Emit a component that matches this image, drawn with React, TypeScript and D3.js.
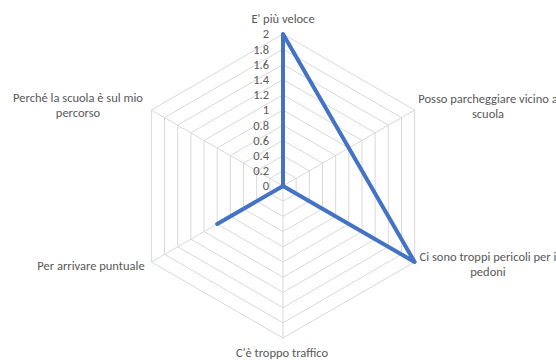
import React from "react";
import * as d3 from "d3";

const categories: string[][] = [
  ["E' più veloce"],
  ["Posso parcheggiare vicino a", "scuola"],
  ["Ci sono troppi pericoli per i", "pedoni"],
  ["C'è troppo traffico"],
  ["Per arrivare puntuale"],
  ["Perché la scuola è sul mio", "percorso"],
];
// null = no answer (the line connects over it)
const values: (number | null)[] = [2, null, 2, 0, 1, 0];
const ticks: number[] = [0, 0.2, 0.4, 0.6, 0.8, 1, 1.2, 1.4, 1.6, 1.8, 2];

const W = 556, H = 363;
const cx = 283, cy = 186, R = 152;

export default function App() {
  const r = d3.scaleLinear().domain([0, 2]).range([0, R]);
  const n = categories.length;
  const ang = (i: number) => (i * 2 * Math.PI) / n;
  const pt = (i: number, v: number): [number, number] => [
    cx + r(v) * Math.sin(ang(i)),
    cy - r(v) * Math.cos(ang(i)),
  ];
  const line = d3.line().curve(d3.curveLinearClosed);
  const font = "Carlito, 'Open Sans', 'Liberation Sans', sans-serif";

  const seriesPts = values
    .map((v, i) => (v === null ? null : pt(i, v)))
    .filter((p): p is [number, number] => p !== null);

  const offs: [number, number][] = [
    [0, -167],
    [205, -87],
    [205, 71],
    [-1, 167],
    [-192, 80],
    [-205, -88],
  ];

  return (
    <div style={{ position: "fixed", left: 0, top: 0 }}>
      <svg width={W} height={H} style={{ display: "block", background: "#fff" }}>
        {ticks.slice(1).map((t) => (
          <path
            key={t}
            d={line(d3.range(n).map((i) => pt(i, t))) || ""}
            fill="none"
            stroke="#d9d9d9"
            strokeWidth={1}
          />
        ))}
        {d3.range(n).map((i) => {
          const [x, y] = pt(i, 2);
          return <line key={i} x1={cx} y1={cy} x2={x} y2={y} stroke="#d9d9d9" strokeWidth={1} />;
        })}
        {ticks.map((t) => (
          <text
            key={t}
            x={cx - 14}
            y={cy - r(t)}
            dy="0.35em"
            textAnchor="end"
            fontSize={12.5}
            fontFamily={font}
            fill="#595959"
          >
            {t}
          </text>
        ))}
        <path
          d={line(seriesPts) || ""}
          fill="none"
          stroke="#4472C4"
          strokeWidth={4}
          strokeLinejoin="round"
        />
        {categories.map((lines, i) => {
          const x = cx + offs[i][0];
          const y0 = cy + offs[i][1];
          return (
            <text
              key={i}
              x={x}
              y={y0}
              textAnchor="middle"
              fontSize={12.5}
              fontFamily={font}
              fill="#595959"
            >
              {lines.map((l, j) => (
                <tspan key={j} x={x} dy={j === 0 ? "0.35em" : 15}>
                  {l}
                </tspan>
              ))}
            </text>
          );
        })}
      </svg>
    </div>
  );
}
